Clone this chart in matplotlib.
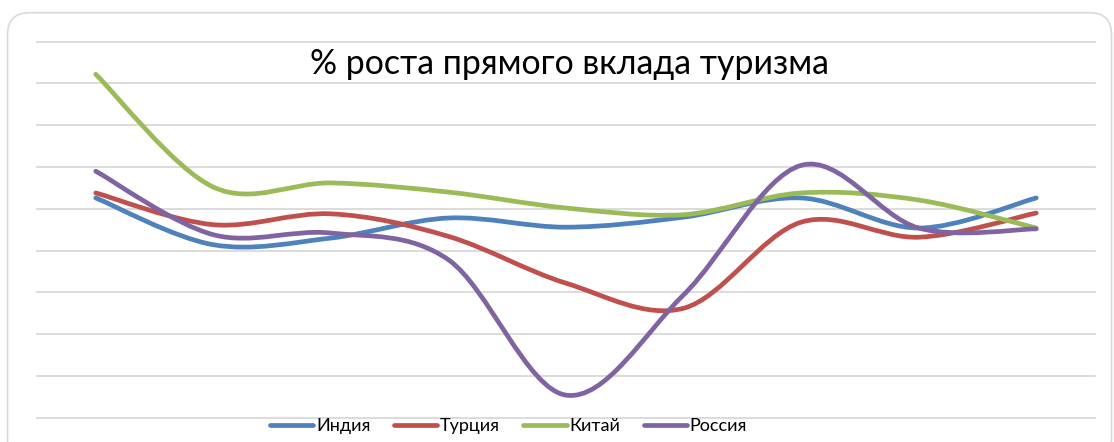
import matplotlib
matplotlib.use('Agg')
import matplotlib.pyplot as plt
from matplotlib.path import Path
from matplotlib.patches import PathPatch, FancyBboxPatch
from matplotlib.lines import Line2D
from matplotlib.transforms import IdentityTransform
import numpy as np

plt.rcParams['font.family'] = ['Lato', 'DejaVu Sans']

# Categories (unlabeled on the chart)
periods = list(range(9))
series_names = ['Индия', 'Турция', 'Китай', 'Россия']
india = [-3.7, -9.3, -8.5, -6.1, -7.2, -6.0, -3.7, -7.3, -3.7]
turkey = [-3.1, -6.9, -5.6, -8.3, -13.9, -16.9, -6.6, -8.4, -5.5]
china = [11.1, -2.4, -1.9, -3.0, -4.9, -5.7, -3.1, -3.95, -7.3]
russia = [-0.5, -8.1, -7.9, -11.1, -27.3, -15.3, 0.2, -7.3, -7.4]
colors = ['#4F81BD', '#C0504D', '#9BBB59', '#8064A2']
title = '% роста прямого вклада туризма'

W, H = 1114, 442
fig = plt.figure(figsize=(W / 100, H / 100), dpi=100)

# rounded chart border
border = FancyBboxPatch((7.5, -20), 1104, 442 - 12.7 + 20,
                        boxstyle='round,pad=0,rounding_size=22',
                        transform=IdentityTransform(), fill=False,
                        edgecolor='#D9D9D9', lw=1.2, zorder=0)
fig.patches.append(border)

ax = fig.add_axes([37 / W, (H - 417.7) / H, 1058 / W, 376 / H])
ax.set_xlim(-0.5, 8.5)
ax.set_ylim(-30, 15)
for s in ax.spines.values():
    s.set_visible(False)
ax.set_xticks([])
ax.set_yticks([])
ax.patch.set_alpha(0)
for yv in np.arange(-30, 16, 5):
    ax.axhline(yv, color='#D9D9D9', lw=1.3, clip_on=False, zorder=1)


def smooth_path(xs, ys):
    pts = np.column_stack([xs, ys]).astype(float)
    n = len(pts)
    verts = [pts[0]]
    codes = [Path.MOVETO]
    for i in range(n - 1):
        p0 = pts[i - 1] if i > 0 else pts[i]
        p1 = pts[i]
        p2 = pts[i + 1]
        p3 = pts[i + 2] if i + 2 < n else pts[i + 1]
        c1 = p1 + (p2 - p0) / 6
        c2 = p2 - (p3 - p1) / 6
        verts += [c1, c2, p2]
        codes += [Path.CURVE4] * 3
    return Path(verts, codes)


handles = []
for vals, col in zip([india, turkey, china, russia], colors):
    patch = PathPatch(smooth_path(periods, vals), fill=False, edgecolor=col,
                      lw=3.4, capstyle='round', joinstyle='round', zorder=3)
    ax.add_patch(patch)
    handles.append(Line2D([], [], color=col, lw=3.4, solid_capstyle='round'))

fig.text(570 / W, 1 - 64 / H, title, ha='center', va='center', fontsize=24.4,
         color='#000000')

fig.legend(handles, series_names, loc='center', bbox_to_anchor=(508.5 / W, 1 - 426 / H),
           ncol=4, frameon=False, fontsize=13, handlelength=2.4,
           handletextpad=0.15, columnspacing=1.3, borderaxespad=0, borderpad=0)

fig.savefig('out.png', dpi=100, facecolor='white')
